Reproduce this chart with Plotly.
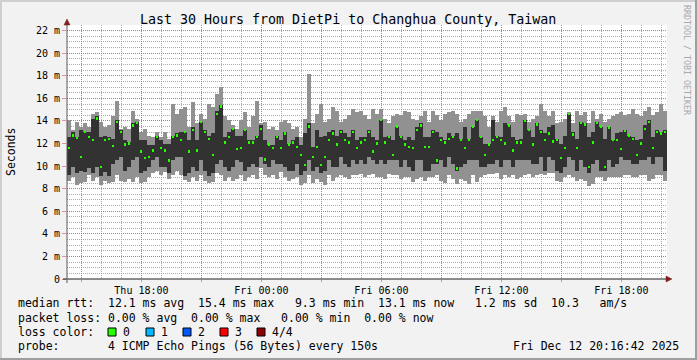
import pandas as pd
import plotly.graph_objects as go

# ---------------- data (milliseconds) ----------------
start = pd.Timestamp("2025-12-11 14:16:42")
end = pd.Timestamp("2025-12-12 20:16:42")

rtt_max = [14.1,13.2,13.9,13.5,13.8,13.5,14.6,14.8,13.9,13.5,13.6,14.4,15.8,13.3,13.5,13.3,14.9,14.2,13.0,13.3,12.7,12.6,13.0,12.6,13.0,12.4,15.5,14.6,15.1,15.2,
           13.5,15.7,13.8,14.6,14.2,15.5,15.2,16.4,17.0,14.4,14.1,13.6,13.3,14.1,14.8,13.5,14.4,15.8,13.8,13.9,13.3,13.5,13.2,13.9,14.1,13.8,13.3,13.5,12.6,14.2,
           18.2,13.8,14.6,15.5,13.9,14.2,15.2,14.9,13.9,14.2,14.5,15.1,14.8,14.9,14.5,14.2,15.1,14.6,15.1,14.2,13.8,14.4,14.6,14.5,14.9,14.8,14.2,14.1,14.4,14.9,
           13.9,14.9,14.5,14.1,14.6,14.8,14.9,14.6,13.9,14.2,14.6,14.9,14.9,14.9,14.4,13.5,14.4,13.9,14.9,15.2,14.4,13.9,14.6,14.5,14.6,13.9,14.2,14.4,15.5,14.9,
           14.4,14.9,13.8,13.9,14.2,14.8,13.8,14.9,14.5,14.8,13.8,14.9,14.2,14.6,13.9,14.2,14.4,14.6,14.8,14.5,14.6,15.1,14.6,14.4,14.9,15.2,14.5,14.8,15.5,14.9]
rtt_q3 = [12.6,13.0,12.6,13.2,13.0,13.0,14.2,14.4,12.6,12.7,12.6,12.4,14.1,13.2,12.3,12.1,13.8,13.9,12.3,12.3,11.9,11.9,12.7,12.3,12.0,12.0,12.7,12.9,13.0,13.0,
          12.3,13.5,12.3,13.9,13.2,12.7,12.9,14.9,15.4,12.6,13.0,13.3,12.7,12.7,13.2,12.3,12.3,12.7,13.6,12.3,11.9,11.9,12.7,12.3,13.0,12.0,12.3,12.6,11.9,12.9,
          13.8,11.7,13.2,12.6,12.7,13.0,13.2,12.7,13.2,12.9,12.6,13.2,12.3,12.6,12.6,13.2,12.6,12.3,14.1,12.6,12.7,12.3,13.5,12.7,12.3,12.6,12.3,13.5,13.8,12.6,
          12.6,13.2,13.0,12.6,12.3,12.9,12.7,12.9,12.4,13.5,12.4,13.5,14.1,12.6,12.0,12.0,14.1,12.7,12.6,13.8,13.6,12.6,12.3,12.4,14.1,13.2,12.6,13.8,13.2,12.9,
          13.5,13.6,12.4,12.0,12.7,14.6,13.0,12.4,13.9,13.8,12.6,13.0,13.9,13.5,12.4,13.5,12.3,12.9,13.0,13.2,12.7,12.6,12.3,12.4,13.6,14.1,12.6,13.2,13.0,13.2]
rtt_median = [11.6,12.7,12.5,10.8,13.0,12.6,12.3,14.2,9.9,12.3,12.4,11.8,13.9,13.0,11.9,12.0,13.6,13.8,11.3,10.7,10.8,11.4,12.6,11.6,11.4,10.5,12.6,12.7,12.3,13.0,
              11.3,13.2,11.4,13.9,13.0,12.4,11.0,14.6,15.3,12.1,12.6,13.3,11.5,11.6,13.2,12.1,12.1,12.6,13.3,10.6,11.9,11.6,12.6,11.6,12.9,11.9,12.1,11.7,11.0,10.1,
              13.5,10.8,11.7,10.1,10.8,12.3,12.9,11.9,13.0,12.3,12.1,13.0,11.6,12.1,12.3,13.0,11.3,12.0,14.1,12.1,12.6,11.0,13.5,12.6,11.9,11.7,11.6,13.2,13.6,11.7,
              11.7,13.0,10.5,12.3,12.1,12.4,12.6,9.8,12.3,11.6,12.3,13.5,14.1,12.6,11.0,11.9,12.3,12.6,12.3,12.0,13.6,11.4,12.1,12.1,14.0,13.2,11.9,13.7,13.0,12.3,
              12.9,12.2,12.3,10.7,11.6,14.6,12.8,11.6,13.8,13.7,9.9,12.1,13.8,13.5,9.9,13.4,12.3,12.3,11.5,13.1,12.7,12.4,11.0,12.0,13.3,13.9,11.6,13.0,12.9,13.0]
rtt_q1 = [9.2,9.9,9.4,9.6,9.5,9.8,9.4,9.9,9.1,9.5,9.1,10.2,10.5,10.8,9.6,9.9,10.5,10.8,9.4,9.6,9.9,10.5,10.8,9.9,9.9,9.4,10.5,10.8,10.8,9.1,
          9.4,9.9,9.6,10.5,9.6,9.1,9.4,10.2,10.5,9.9,9.6,9.9,10.5,10.4,9.6,9.9,10.2,9.9,10.8,10.2,9.9,10.5,10.2,10.2,9.9,9.6,9.6,10.2,9.2,9.6,
          10.5,9.6,9.9,9.4,9.6,10.5,9.9,9.9,10.8,10.2,9.9,10.5,10.2,10.5,10.2,10.8,10.5,10.2,10.5,10.2,10.5,10.5,10.5,9.9,10.5,9.9,9.6,10.5,10.5,9.6,
          9.6,10.2,10.2,10.5,9.9,10.8,10.2,9.6,9.9,10.2,10.5,10.5,10.5,9.9,9.9,10.2,10.2,10.5,9.9,10.5,10.5,9.9,10.5,10.5,10.5,10.5,10.2,10.2,10.8,9.6,
          10.8,10.5,9.6,9.4,9.9,10.8,10.5,9.6,10.5,9.9,9.4,10.2,10.5,9.6,9.6,10.5,9.9,10.2,10.8,10.5,10.5,10.2,10.2,10.5,10.5,10.8,10.2,10.8,10.8,9.6]
rtt_min = [8.7,9.0,8.3,8.5,8.6,9.2,8.7,9.0,8.3,8.7,8.5,8.6,9.2,8.7,8.6,8.9,8.6,9.0,8.5,8.6,9.0,9.4,9.6,9.2,9.5,8.9,9.2,9.6,9.2,8.8,
           8.6,9.0,8.7,9.2,8.7,8.5,8.6,9.4,9.2,8.7,9.0,8.7,8.9,9.2,8.7,9.0,9.2,8.9,9.8,9.2,9.0,9.2,8.9,9.5,9.0,8.7,8.9,9.0,8.3,8.5,
           9.2,8.5,8.9,8.6,8.3,9.2,8.7,9.0,9.2,9.0,8.9,9.2,9.2,9.3,9.0,9.2,9.3,9.0,9.0,8.9,9.3,9.2,9.2,8.9,9.0,9.0,8.6,8.9,9.0,8.7,
           9.0,9.0,9.2,8.7,8.5,9.2,8.9,8.4,8.9,8.7,8.4,9.2,8.6,9.0,9.2,9.3,9.3,9.4,8.9,9.2,9.0,9.2,8.9,9.0,9.2,9.3,9.0,9.2,9.3,9.2,
           9.4,9.4,8.7,8.6,9.0,9.2,9.0,8.7,8.9,8.7,8.2,8.4,9.0,9.0,8.7,9.0,9.0,9.0,9.0,9.2,9.2,9.0,9.0,9.2,9.2,8.7,8.9,9.2,9.2,8.7]

x_tick_times = ["2025-12-11 15:00", "2025-12-11 18:00", "2025-12-11 21:00", "2025-12-12 00:00",
                "2025-12-12 03:00", "2025-12-12 06:00", "2025-12-12 09:00", "2025-12-12 12:00",
                "2025-12-12 15:00", "2025-12-12 18:00"]
x_tick_labels = ["", "Thu 18:00", "", "Fri 00:00", "", "Fri 06:00", "", "Fri 12:00", "", "Fri 18:00"]
x_minor_times = [str(t) for t in pd.date_range("2025-12-11 15:00", "2025-12-12 20:00", freq="1h")]
y_tick_vals = [0, 2, 4, 6, 8, 10, 12, 14, 16, 18, 20, 22]
y_tick_labels = ["0", "2 m", "4 m", "6 m", "8 m", "10 m", "12 m", "14 m", "16 m", "18 m", "20 m", "22 m"]

title = "Last 30 Hours from DietPi to Changhua County, Taiwan"
legend_lines = [
    "median rtt:  12.1 ms avg  15.4 ms max   9.3 ms min  13.1 ms now   1.2 ms sd  10.3   am/s",
    "packet loss: 0.00 % avg  0.00 % max   0.00 % min  0.00 % now",
    "loss color:",
    "probe:       4 ICMP Echo Pings (56 Bytes) every 150s",
]
timestamp = "Fri Dec 12 20:16:42 2025"
loss_labels = ["0", "1", "2", "3", "4/4"]
loss_colors = ["#26ff00", "#00b8ff", "#0059ff", "#ff0000", "#8f0000"]

# ---------------- layout geometry ----------------
W, H = 697, 360
L, R, T, B = 67, 30, 25, 81
PW, PH = W - L - R, H - T - B
Y_TOP = 22.5
FONT = "DejaVu Sans Mono"

def xp(px):
    return (px - L) / PW

def yp(py):
    return (H - B - py) / PH

n = len(rtt_max)
step = (end - start) / n
centers = [start + step * (i + 0.5) for i in range(n)]
wms = step.total_seconds() * 1000

fig = go.Figure()
fig.add_bar(x=centers, base=rtt_min, y=[a - b for a, b in zip(rtt_max, rtt_min)],
            width=wms, marker=dict(color="#919191", line=dict(width=0)), hoverinfo="skip")
fig.add_bar(x=centers, base=rtt_q1, y=[a - b for a, b in zip(rtt_q3, rtt_q1)],
            width=wms * 0.8, marker=dict(color="#323232", line=dict(width=0)), hoverinfo="skip")
mh = 0.22
fig.add_bar(x=centers, base=[m - mh / 2 for m in rtt_median], y=[mh] * n,
            width=wms * 0.65, marker=dict(color=loss_colors[0], line=dict(width=0)), hoverinfo="skip")

MGRID = "rgba(222,79,79,0.6)"
GRID = "rgba(143,143,143,0.75)"

fig.update_layout(
    width=W, height=H, margin=dict(l=L, r=R, t=T, b=B, pad=0),
    paper_bgcolor="#f2f2f2", plot_bgcolor="#ffffff",
    barmode="overlay", bargap=0, showlegend=False,
    font=dict(family=FONT, size=10, color="#000000"),
    xaxis=dict(type="date", range=[start, end], tickmode="array",
               tickvals=x_tick_times, ticktext=x_tick_labels,
               showgrid=True, gridcolor=MGRID, griddash="1px,1px", gridwidth=1,
               ticks="outside", ticklen=2, tickcolor=MGRID,
               minor=dict(tickmode="array", tickvals=x_minor_times, showgrid=True,
                          gridcolor=GRID, griddash="1px,1px", gridwidth=1, ticks=""),
               zeroline=False, showline=False, fixedrange=True,
               tickfont=dict(family=FONT, size=10)),
    yaxis=dict(range=[0, Y_TOP], tickmode="array", tickvals=y_tick_vals, ticktext=y_tick_labels,
               showgrid=True, gridcolor=MGRID, griddash="1px,1px", gridwidth=1,
               ticks="outside", ticklen=4, tickcolor=MGRID,
               minor=dict(dtick=0.5, tick0=0, showgrid=True, gridcolor=GRID,
                          griddash="1px,1px", gridwidth=1, ticks=""),
               zeroline=False, showline=False, fixedrange=True,
               tickfont=dict(family=FONT, size=10)),
)

shapes = []
# frame shading
shapes.append(dict(type="rect", xref="paper", yref="paper", x0=xp(0), x1=xp(W), y0=yp(0), y1=yp(2),
                   fillcolor="#cfcfcf", line=dict(width=0), layer="above"))
shapes.append(dict(type="rect", xref="paper", yref="paper", x0=xp(0), x1=xp(2), y0=yp(0), y1=yp(H),
                   fillcolor="#cfcfcf", line=dict(width=0), layer="above"))
shapes.append(dict(type="rect", xref="paper", yref="paper", x0=xp(0), x1=xp(W), y0=yp(H - 2), y1=yp(H),
                   fillcolor="#9e9e9e", line=dict(width=0), layer="above"))
shapes.append(dict(type="rect", xref="paper", yref="paper", x0=xp(W - 2), x1=xp(W), y0=yp(0), y1=yp(H),
                   fillcolor="#9e9e9e", line=dict(width=0), layer="above"))
# axes
shapes.append(dict(type="line", xref="paper", yref="paper", x0=xp(63), x1=xp(668), y0=0, y1=0,
                   line=dict(color="#1f1f1f", width=1), layer="above"))
shapes.append(dict(type="line", xref="paper", yref="paper", x0=0, x1=0, y0=yp(283), y1=yp(22),
                   line=dict(color="#5a5a5a", width=1), layer="above"))
# arrows
shapes.append(dict(type="path", xref="paper", yref="paper",
                   path=f"M {xp(672)} {yp(279)} L {xp(666)} {yp(276)} L {xp(666)} {yp(282)} Z",
                   fillcolor="#801f1f", line=dict(color="#801f1f", width=0.5), layer="above"))
shapes.append(dict(type="path", xref="paper", yref="paper",
                   path=f"M {xp(67)} {yp(19)} L {xp(64)} {yp(25)} L {xp(70)} {yp(25)} Z",
                   fillcolor="#801f1f", line=dict(color="#801f1f", width=0.5), layer="above"))

# loss colour boxes
box_lefts = [108, 146, 183, 220, 257]
for bx, col in zip(box_lefts, loss_colors):
    shapes.append(dict(type="rect", xref="paper", yref="paper", x0=xp(bx), x1=xp(bx + 8),
                       y0=yp(336), y1=yp(328), fillcolor=col, line=dict(color="#000000", width=1),
                       layer="above"))
fig.update_layout(shapes=shapes)

def nb(s):
    return s.replace(" ", "\u00a0")

ann = []
ann.append(dict(text=nb(title), x=xp(348), y=yp(19), xref="paper", yref="paper",
                xanchor="center", yanchor="middle", showarrow=False,
                font=dict(family=FONT, size=13.3, color="#000000")))
ann.append(dict(text="Seconds", x=xp(11), y=yp(152), xref="paper", yref="paper", textangle=-90,
                xanchor="center", yanchor="middle", showarrow=False,
                font=dict(family=FONT, size=11.5, color="#000000")))
ann.append(dict(text=nb("RRDTOOL / TOBI OETIKER"), x=xp(687), y=yp(60), xref="paper", yref="paper",
                textangle=90, xanchor="center", yanchor="middle", showarrow=False,
                font=dict(family=FONT, size=8.3, color="#a8a8a8")))
line_y = [303, 318, 332, 346]
for txt, ly in zip(legend_lines, line_y):
    ann.append(dict(text=nb(txt), x=xp(16), y=yp(ly), xref="paper", yref="paper",
                    xanchor="left", yanchor="middle", showarrow=False,
                    font=dict(family=FONT, size=11.5, color="#000000")))
for bx, lab in zip(box_lefts, loss_labels):
    ann.append(dict(text=lab, x=xp(bx + 13), y=yp(332), xref="paper", yref="paper",
                    xanchor="left", yanchor="middle", showarrow=False,
                    font=dict(family=FONT, size=11.5, color="#000000")))
ann.append(dict(text=nb(timestamp), x=xp(681), y=yp(346), xref="paper", yref="paper",
                xanchor="right", yanchor="middle", showarrow=False,
                font=dict(family=FONT, size=11.5, color="#000000")))
fig.update_layout(annotations=ann)

fig.write_html("out.html")
